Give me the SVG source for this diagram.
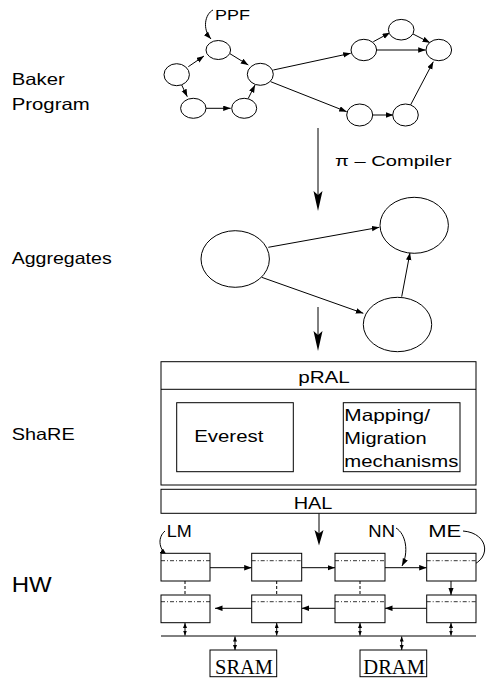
<svg xmlns="http://www.w3.org/2000/svg" width="488" height="679" viewBox="0 0 488 679">
<defs>
<marker id="ah" markerWidth="8" markerHeight="6" refX="7.5" refY="2.75" orient="auto" markerUnits="userSpaceOnUse">
<path d="M0,0 L7.5,2.75 L0,5.5 z" fill="#000"/>
</marker>
<marker id="ahs" markerWidth="6" markerHeight="5" refX="5" refY="2" orient="auto-start-reverse" markerUnits="userSpaceOnUse">
<path d="M0,0 L5,2 L0,4 z" fill="#000"/>
</marker>
</defs>
<style>
text{font-family:"Liberation Sans",Arial,sans-serif;fill:#000}
.l{font-size:16.5px}
.s{font-family:"Liberation Serif","Times New Roman",serif;font-size:20px}
ellipse,rect{fill:#fff;stroke:#000;stroke-width:1}
.e{fill:none;stroke:#000;stroke-width:1;marker-end:url(#ah)}
.d{fill:none;stroke:#000;stroke-width:1;marker-start:url(#ahs);marker-end:url(#ahs)}
.big{fill:#000;stroke:none}
.dd{stroke:#000;stroke-width:0.8;stroke-dasharray:4,2,1,2;fill:none}
.ds{stroke:#000;stroke-width:1;stroke-dasharray:3,2;fill:none}
</style>

<g id="labels">
<text class="l" x="11.7" y="85" textLength="53" lengthAdjust="spacingAndGlyphs">Baker</text>
<text class="l" x="11.7" y="110" textLength="78" lengthAdjust="spacingAndGlyphs">Program</text>
<text class="l" x="11.7" y="264" textLength="100" lengthAdjust="spacingAndGlyphs">Aggregates</text>
<text class="l" x="11.7" y="440" textLength="63" lengthAdjust="spacingAndGlyphs">ShaRE</text>
<text x="11.7" y="592" font-size="22" textLength="40" lengthAdjust="spacingAndGlyphs">HW</text>
<text x="215" y="19.5" font-size="15.5" textLength="35" lengthAdjust="spacingAndGlyphs">PPF</text>
<text x="335" y="166" font-size="15.5" textLength="116.7" lengthAdjust="spacingAndGlyphs">π – Compiler</text>
</g>

<g id="connectors">
<!-- top graph -->
<path class="e" d="M213,10 C205,14 202,29 211,39"/>
<line class="e" x1="188.3" y1="66.7" x2="204" y2="56"/>
<line class="e" x1="229.3" y1="53.3" x2="248.3" y2="65"/>
<line class="e" x1="181.7" y1="85" x2="187.3" y2="96.7"/>
<line class="e" x1="206" y1="108.3" x2="230.7" y2="108.3"/>
<line class="e" x1="248.3" y1="98.3" x2="255" y2="85"/>
<line class="e" x1="273.3" y1="70" x2="350.7" y2="53.3"/>
<line class="e" x1="270.7" y1="81.7" x2="346.7" y2="111.7"/>
<line class="e" x1="373.3" y1="41.7" x2="390" y2="32.7"/>
<line class="e" x1="376.7" y1="50" x2="425.7" y2="50"/>
<line class="e" x1="411.7" y1="33.3" x2="430" y2="42.7"/>
<line class="e" x1="372.7" y1="115" x2="393.3" y2="115"/>
<line class="e" x1="410" y1="106" x2="433.3" y2="61.7"/>
<!-- main arrows -->
<line x1="318" y1="128" x2="318" y2="200" stroke="#000" stroke-width="1"/>
<path class="big" d="M318,211 L313.5,191 L318,195 L322.5,191 z"/>
<line x1="318" y1="307" x2="318" y2="340" stroke="#000" stroke-width="1"/>
<path class="big" d="M318,351 L313.5,331 L318,335 L322.5,331 z"/>
<line x1="319" y1="513.3" x2="319" y2="535" stroke="#000" stroke-width="1"/>
<path class="big" d="M319,545.5 L314.5,530 L319,533.5 L323.5,530 z"/>
<!-- aggregates -->
<line class="e" x1="268.3" y1="247.3" x2="379.3" y2="227.3"/>
<line class="e" x1="261.7" y1="277.3" x2="363.3" y2="313.3"/>
<line class="e" x1="401.7" y1="296.7" x2="410" y2="252.7"/>
<!-- ShaRE -->
<line class="e" x1="293.3" y1="438" x2="343.3" y2="438"/>
<!-- HW -->
<line class="e" x1="210" y1="567.7" x2="251.7" y2="567.7"/>
<line class="e" x1="301.7" y1="567.7" x2="335" y2="567.7"/>
<line class="e" x1="385" y1="567.7" x2="426.7" y2="567.7"/>
<line class="e" x1="426.7" y1="608.3" x2="385" y2="608.3"/>
<line class="e" x1="335" y1="608.3" x2="301.7" y2="608.3"/>
<line class="e" x1="251.7" y1="608.3" x2="215" y2="608.3"/>
<line class="ds" x1="185" y1="581" x2="185" y2="595"/>
<line class="ds" x1="276.7" y1="581" x2="276.7" y2="595"/>
<line class="ds" x1="360" y1="581" x2="360" y2="595"/>
<line class="e" x1="451" y1="581" x2="451" y2="595"/>
<line x1="161" y1="636" x2="476" y2="636" stroke="#000" stroke-width="1"/>
<line class="d" x1="185" y1="623" x2="185" y2="635.5"/>
<line class="d" x1="276.7" y1="623" x2="276.7" y2="635.5"/>
<line class="d" x1="360" y1="623" x2="360" y2="635.5"/>
<line class="d" x1="451" y1="623" x2="451" y2="635.5"/>
<line class="d" x1="235" y1="636.5" x2="235" y2="650"/>
<line class="d" x1="401.7" y1="636.5" x2="401.7" y2="650"/>
<path class="e" d="M165,531 C158,537 158,548 167,555.5"/>
<path class="e" d="M396,528 C406,534 409,552 402,566"/>
<path class="e" d="M463,531 C490,533 493,562 465,567.5"/>
</g>

<g id="baker-nodes">
<ellipse cx="218.3" cy="50" rx="12.3" ry="9.5"/>
<ellipse cx="176.7" cy="74.7" rx="12.7" ry="11"/>
<ellipse cx="260.3" cy="74.3" rx="13" ry="11"/>
<ellipse cx="193.3" cy="108.3" rx="12.7" ry="10"/>
<ellipse cx="244.2" cy="108.3" rx="12.5" ry="10"/>
<ellipse cx="363.8" cy="50" rx="12.8" ry="10.7"/>
<ellipse cx="401.2" cy="29.7" rx="12.8" ry="10.3"/>
<ellipse cx="438.8" cy="50" rx="12.8" ry="10.7"/>
<ellipse cx="359.7" cy="115" rx="13" ry="11"/>
<ellipse cx="405.5" cy="115" rx="12.8" ry="11"/>
</g>

<g id="aggregates">
<ellipse cx="235.2" cy="259" rx="34.2" ry="28.3"/>
<ellipse cx="414.2" cy="225.3" rx="34.2" ry="28"/>
<ellipse cx="397.5" cy="324.5" rx="34.2" ry="27.2"/>
</g>

<g id="pral">
<rect x="161" y="361.7" width="315" height="123.3"/>
<line x1="161" y1="389.3" x2="476" y2="389.3" stroke="#000" stroke-width="1"/>
<text class="l" x="324" y="383" text-anchor="middle" textLength="51.7" lengthAdjust="spacingAndGlyphs">pRAL</text>
</g>
<g id="everest">
<rect x="176.7" y="402.7" width="116.6" height="69"/>
<text class="l" x="194.3" y="442" textLength="69" lengthAdjust="spacingAndGlyphs">Everest</text>
</g>
<g id="mapping">
<rect x="343.3" y="402.7" width="116.7" height="69"/>
<text class="l" x="344.3" y="421" textLength="85.7" lengthAdjust="spacingAndGlyphs">Mapping/</text>
<text class="l" x="344.3" y="444" textLength="82.3" lengthAdjust="spacingAndGlyphs">Migration</text>
<text class="l" x="344.3" y="467" textLength="114" lengthAdjust="spacingAndGlyphs">mechanisms</text>
</g>
<g id="hal">
<rect x="161" y="489.3" width="315" height="24"/>
<text class="l" x="313" y="508.5" text-anchor="middle" textLength="38.7" lengthAdjust="spacingAndGlyphs">HAL</text>
</g>

<g id="hw-labels">
<text x="166.7" y="536.7" font-size="16" textLength="25" lengthAdjust="spacingAndGlyphs">LM</text>
<text x="368.3" y="536.7" font-size="16" textLength="26.7" lengthAdjust="spacingAndGlyphs">NN</text>
<text x="428.3" y="536.7" font-size="16" textLength="33" lengthAdjust="spacingAndGlyphs">ME</text>
</g>

<g id="me1"><rect x="161" y="553.3" width="49" height="27.7"/><line class="dd" x1="161" y1="560.7" x2="210" y2="560.7"/></g>
<g id="me2"><rect x="251.7" y="553.3" width="50" height="27.7"/><line class="dd" x1="251.7" y1="560.7" x2="301.7" y2="560.7"/></g>
<g id="me3"><rect x="335" y="553.3" width="50" height="27.7"/><line class="dd" x1="335" y1="560.7" x2="385" y2="560.7"/></g>
<g id="me4"><rect x="426.7" y="553.3" width="49.3" height="27.7"/><line class="dd" x1="426.7" y1="560.7" x2="476" y2="560.7"/></g>
<g id="me5"><rect x="161" y="595" width="49" height="27.7"/><line class="dd" x1="161" y1="601.7" x2="210" y2="601.7"/></g>
<g id="me6"><rect x="251.7" y="595" width="50" height="27.7"/><line class="dd" x1="251.7" y1="601.7" x2="301.7" y2="601.7"/></g>
<g id="me7"><rect x="335" y="595" width="50" height="27.7"/><line class="dd" x1="335" y1="601.7" x2="385" y2="601.7"/></g>
<g id="me8"><rect x="426.7" y="595" width="49.3" height="27.7"/><line class="dd" x1="426.7" y1="601.7" x2="476" y2="601.7"/></g>

<g id="sram">
<rect x="210" y="650" width="66.7" height="26.7"/>
<text class="s" x="215" y="674" textLength="58" lengthAdjust="spacingAndGlyphs">SRAM</text>
</g>
<g id="dram">
<rect x="360" y="650" width="66.7" height="26.7"/>
<text class="s" x="363.3" y="674" textLength="61.7" lengthAdjust="spacingAndGlyphs">DRAM</text>
</g>
</svg>
